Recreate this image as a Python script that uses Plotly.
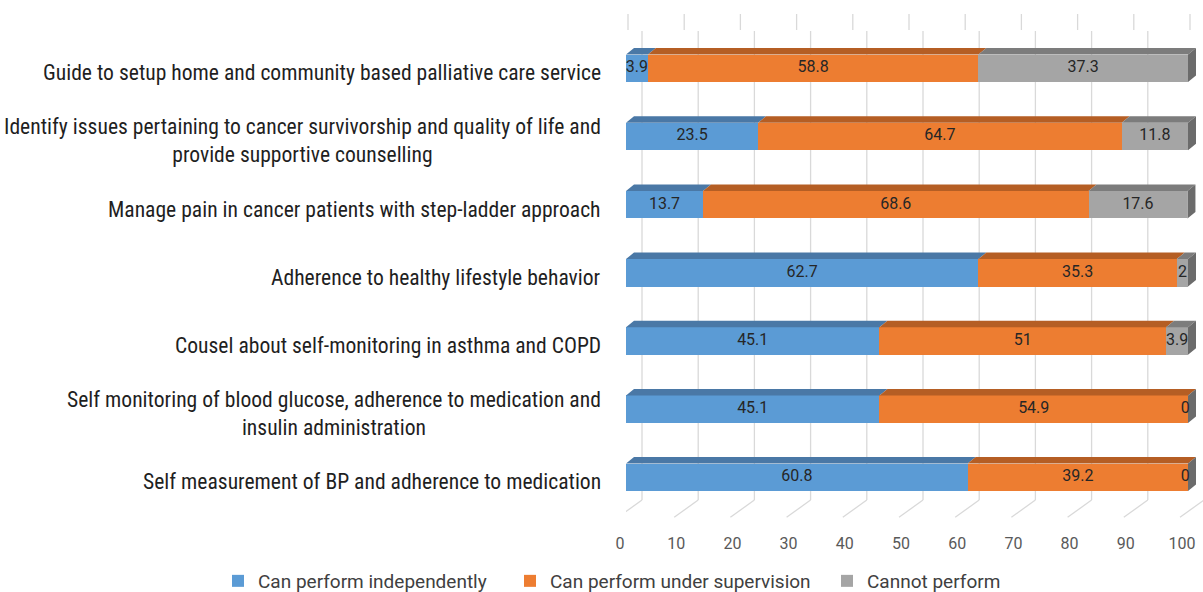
import plotly.graph_objects as go

# ---------------- data ----------------
categories = [
    "Guide to setup home and community based palliative care service",
    "Identify issues pertaining to cancer survivorship and quality of life and<br>provide supportive counselling",
    "Manage pain in cancer patients with step-ladder approach",
    "Adherence to healthy lifestyle behavior",
    "Cousel about self-monitoring in asthma and COPD",
    "Self monitoring of blood glucose, adherence to medication and<br>insulin administration",
    "Self measurement of BP and adherence to medication",
]
independent = [3.9, 23.5, 13.7, 62.7, 45.1, 45.1, 60.8]
supervision = [58.8, 64.7, 68.6, 35.3, 51, 54.9, 39.2]
cannot = [37.3, 11.8, 17.6, 2, 3.9, 0, 0]
series_names = ["Can perform independently", "Can perform under supervision", "Cannot perform"]
x_ticks = [0, 10, 20, 30, 40, 50, 60, 70, 80, 90, 100]

# ---------------- styles ----------------
front_colors = ["#5B9BD5", "#ED7D31", "#A5A5A5"]
top_colors = ["#4A78A6", "#B55E24", "#7C7C7C"]
side_color = "#6B6B6B"
FONT = "Roboto, 'Liberation Sans', Arial, sans-serif"
NARROW = "'Liberation Sans Narrow', 'Arial Narrow', 'Roboto Condensed', Roboto, sans-serif"

PX_PER_X = 5.62      # pixels per x unit
PX_PER_Y = 68.17     # pixels per category
BAR_W = 0.403
DX = 8 / PX_PER_X    # depth offset (x)
DY = 6.5 / PX_PER_Y  # depth offset (y)

L_MARGIN, T_MARGIN, B_MARGIN = 626, 10, 72
W, H = 1203, 592
plot_h = H - T_MARGIN - B_MARGIN
plot_w = W - L_MARGIN
y_top = -(68.3 - T_MARGIN) / PX_PER_Y
y_bot = y_top + plot_h / PX_PER_Y
x_max = plot_w / PX_PER_X
legend_marker_px = [243, 535, 852]   # legend entry positions (pixels)


def py(px):
    return y_top + (px - T_MARGIN) / PX_PER_Y


ypos = list(range(len(categories)))
series = [independent, supervision, cannot]
legend_ids = ["legend", "legend2", "legend3"]

fig = go.Figure()

# front faces
for name, vals, col, lg in zip(series_names, series, front_colors, legend_ids):
    fig.add_trace(go.Bar(
        y=ypos, x=vals, name=name, orientation="h", width=BAR_W,
        marker=dict(color=col, line=dict(width=0)),
        hoverinfo="x+name", legend=lg,
    ))

# top faces (3D effect), computed from cumulative values
for s_idx, (vals, col) in enumerate(zip(series, top_colors)):
    xs, ys = [], []
    for i in ypos:
        x0 = sum(series[k][i] for k in range(s_idx))
        x1 = x0 + vals[i]
        if vals[i] <= 0:
            continue
        yt = i - BAR_W / 2
        xs += [x0, x1, x1 + DX, x0 + DX, x0, None]
        ys += [yt, yt, yt - DY, yt - DY, yt, None]
    fig.add_trace(go.Scatter(x=xs, y=ys, fill="toself", fillcolor=col, mode="none",
                             showlegend=False, hoverinfo="skip"))

# right end faces
xs, ys = [], []
for i in ypos:
    xe = independent[i] + supervision[i] + cannot[i]
    yt, yb = i - BAR_W / 2, i + BAR_W / 2
    xs += [xe, xe + DX, xe + DX, xe, xe, None]
    ys += [yt, yt - DY, yb - DY, yb, yt, None]
fig.add_trace(go.Scatter(x=xs, y=ys, fill="toself", fillcolor=side_color, mode="none",
                         showlegend=False, hoverinfo="skip"))

# data labels centred on each segment
lx, ly, lt = [], [], []
for s_idx, vals in enumerate(series):
    for i in ypos:
        x0 = sum(series[k][i] for k in range(s_idx))
        v = vals[i]
        if v == 0 and s_idx < 2:
            continue
        cx = x0 + v / 2 if v > 0 else x0 - 0.5
        lx.append(cx)
        ly.append(i)
        lt.append(f"{v:g}")
fig.add_trace(go.Scatter(x=lx, y=ly, text=lt, mode="text", cliponaxis=False,
                         textfont=dict(family=FONT, size=16, color="#262626"),
                         showlegend=False, hoverinfo="skip"))

# gridlines in 3D style (back wall + floor), from tick values
grid = dict(color="#D9D9D9", width=1.3)
off_back = 16 / PX_PER_X
off_top = 2 / PX_PER_X
off_front = -8 / PX_PER_X
for t in x_ticks:
    fig.add_shape(type="line", xref="x", yref="y", layer="below",
                  x0=t + off_top, x1=t + off_top, y0=py(14), y1=py(30), line=grid)
    fig.add_shape(type="line", xref="x", yref="y", layer="below",
                  x0=t + off_back, x1=t + off_back, y0=py(31), y1=py(500), line=grid)
    fig.add_shape(type="line", xref="x", yref="y", layer="below",
                  x0=t + off_back, x1=t + off_front, y0=py(500), y1=py(517.3), line=grid)

# category labels
for i, c in zip(ypos, categories):
    fig.add_annotation(x=0, xref="paper", y=i, yref="y", text=c, showarrow=False,
                       xanchor="right", yanchor="middle", align="center",
                       xshift=-23, yshift=-4.5,
                       font=dict(family=NARROW, size=21.6, color="#1F1F1F"))

legend_style = dict(orientation="h", xref="paper", yref="paper", xanchor="left",
                    y=-61 / plot_h, yanchor="middle", indentation=-9,
                    font=dict(family=FONT, size=19, color="#404040"),
                    itemwidth=30, bgcolor="rgba(0,0,0,0)")
legends = {}
for lg, mpx in zip(legend_ids, legend_marker_px):
    legends[lg] = dict(legend_style, x=(mpx - 16 - L_MARGIN) / plot_w)

fig.update_layout(
    width=W, height=H,
    barmode="stack",
    plot_bgcolor="white", paper_bgcolor="white",
    margin=dict(l=L_MARGIN, r=0, t=T_MARGIN, b=B_MARGIN, pad=0, autoexpand=False),
    font=dict(family=FONT, color="#404040"),
    xaxis=dict(range=[0, x_max], tickvals=x_ticks, showgrid=False, zeroline=False,
               showline=False, ticks="", ticklabelstandoff=12, ticklabelshift=-6,
               tickfont=dict(family=FONT, size=16, color="#595959")),
    yaxis=dict(range=[y_bot, y_top], showticklabels=False, showgrid=False,
               zeroline=False, showline=False, ticks=""),
    showlegend=True,
    **legends,
)

fig.write_html("out.html", config={"displayModeBar": False},
               post_script="document.body.style.margin='0px';document.body.style.overflow='hidden';")
